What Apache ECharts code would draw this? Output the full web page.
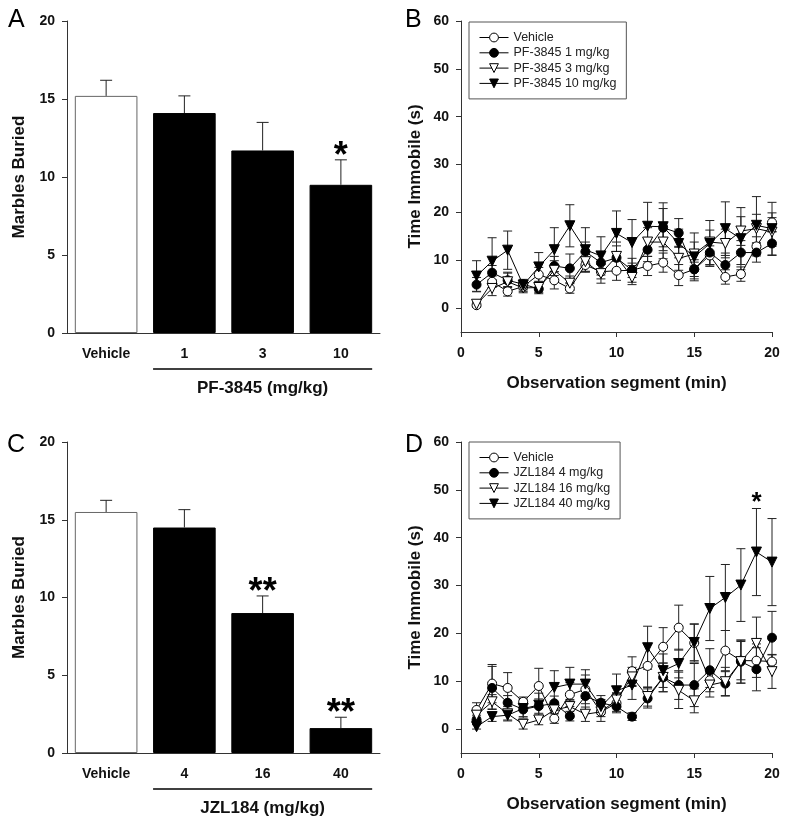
<!DOCTYPE html>
<html><head><meta charset="utf-8">
<script src="https://cdn.jsdelivr.net/npm/echarts@6/dist/echarts.min.js"></script>
<style>html,body{margin:0;padding:0;background:#fff}#c{width:791px;height:825px}</style>
</head><body><div id="c"></div>
<script>
// ---------- data ----------
const barTicks = [0, 5, 10, 15, 20];
const lineYTicks = [0, 10, 20, 30, 40, 50, 60];
const lineXTicks = [0, 5, 10, 15, 20];

const catsA = ['Vehicle', '1', '3', '10'];
const valsA = [15.2, 14.1, 11.7, 9.5];
const errA = [1.0, 1.1, 1.8, 1.6];
const sigA = ['', '', '', '*'];
const groupA = 'PF-3845 (mg/kg)';

const catsC = ['Vehicle', '4', '16', '40'];
const valsC = [15.5, 14.5, 9.0, 1.6];
const errC = [0.75, 1.15, 1.1, 0.7];
const sigC = ['', '', '**', '**'];
const groupC = 'JZL184 (mg/kg)';

const segments = [1, 2, 3, 4, 5, 6, 7, 8, 9, 10, 11, 12, 13, 14, 15, 16, 17, 18, 19, 20];

const namesB = ['Vehicle', 'PF-3845 1 mg/kg', 'PF-3845 3 mg/kg', 'PF-3845 10 mg/kg'];
const bVeh = [0.6, 5.5, 3.5, 4.5, 7.0, 5.8, 4.1, 9.0, 7.6, 7.8, 7.9, 8.8, 9.5, 6.9, 8.1, 11.0, 6.5, 7.1, 12.9, 17.9];
const bVehE = [0.4, 1.2, 1.0, 1.0, 1.5, 1.8, 1.0, 1.5, 1.5, 2.0, 1.5, 2.0, 2.0, 2.2, 1.5, 2.0, 1.5, 1.5, 2.0, 2.0];
const b1 = [4.9, 7.4, 5.8, 5.0, 4.0, 8.8, 8.3, 11.8, 9.5, 10.5, 7.9, 12.2, 16.8, 15.7, 8.1, 11.6, 9.0, 11.6, 11.6, 13.5];
const b1E = [1.5, 1.5, 1.5, 1.0, 1.0, 2.0, 3.0, 2.0, 2.0, 2.5, 2.5, 2.5, 4.0, 3.0, 2.0, 2.5, 2.5, 2.5, 2.0, 2.5];
const b3 = [0.8, 4.1, 5.5, 4.2, 4.3, 7.9, 5.2, 9.7, 7.2, 10.8, 6.4, 13.8, 13.8, 10.4, 11.3, 13.8, 13.5, 16.1, 16.6, 15.9];
const b3E = [0.5, 1.5, 2.0, 1.0, 1.0, 2.0, 1.5, 2.0, 2.0, 3.0, 1.5, 3.0, 3.5, 2.5, 2.5, 2.5, 3.0, 3.0, 3.0, 3.0];
const b10 = [6.7, 9.8, 12.1, 4.8, 8.6, 12.2, 17.2, 12.2, 10.9, 15.6, 13.7, 17.1, 17.0, 13.5, 10.7, 13.5, 16.6, 14.5, 17.3, 16.6];
const b10E = [3.2, 4.9, 4.0, 1.0, 3.0, 4.6, 4.4, 4.6, 4.0, 4.7, 4.8, 5.0, 5.0, 3.0, 5.0, 4.8, 5.6, 6.5, 6.0, 5.5];

const namesD = ['Vehicle', 'JZL184 4 mg/kg', 'JZL184 16 mg/kg', 'JZL184 40 mg/kg'];
const dVeh = [4.0, 9.5, 8.6, 5.7, 9.0, 2.2, 7.2, 8.3, 3.6, 5.4, 12.1, 13.2, 17.2, 21.2, 18.0, 10.2, 16.4, 14.3, 14.3, 14.1];
const dVehE = [1.5, 4.0, 3.2, 1.0, 3.7, 1.0, 2.5, 3.0, 1.0, 2.0, 3.0, 4.5, 4.0, 4.7, 4.0, 1.5, 4.2, 4.0, 3.5, 1.5];
const d4 = [1.9, 8.6, 5.5, 4.1, 4.8, 5.4, 2.7, 6.9, 5.5, 4.7, 2.6, 6.4, 10.8, 9.2, 9.2, 12.3, 9.5, 14.1, 12.5, 19.1];
const d4E = [1.0, 4.5, 1.5, 1.5, 1.5, 1.5, 1.0, 3.0, 1.5, 1.0, 0.8, 2.0, 3.0, 3.0, 4.5, 4.5, 2.5, 4.5, 4.5, 5.5];
const d16 = [2.9, 5.7, 3.2, 1.0, 1.9, 4.0, 4.7, 3.1, 3.6, 6.1, 10.9, 6.8, 10.8, 8.1, 5.9, 9.2, 9.9, 14.1, 17.9, 12.0];
const d16E = [1.0, 1.5, 1.5, 1.0, 1.0, 1.5, 1.5, 1.5, 2.0, 1.5, 2.0, 2.0, 3.0, 3.8, 2.5, 2.5, 3.0, 4.5, 5.5, 3.5];
const d40 = [0.5, 2.6, 2.9, 4.3, 5.0, 8.7, 9.4, 9.4, 4.7, 8.0, 9.2, 17.0, 12.2, 13.7, 18.1, 25.2, 27.5, 30.1, 37.0, 34.9];
const d40E = [0.5, 1.0, 1.0, 2.0, 2.5, 3.5, 3.5, 3.0, 1.5, 3.5, 3.0, 4.5, 3.5, 3.0, 3.8, 6.7, 6.9, 7.6, 9.1, 9.1];
const sigD = ['', '', '', '', '', '', '', '', '', '', '', '', '', '', '', '', '', '', '*', ''];

// ---------- styles ----------
const FONT = 'Liberation Sans, Arial, sans-serif';
const AX = '#333';
const tickLabel = { fontFamily: FONT, fontWeight: 'bold', fontSize: 14, color: '#111' };
const titleStyle = { fontFamily: FONT, fontWeight: 'bold', fontSize: 17, color: '#111' };

const chart = echarts.init(document.getElementById('c'), null, { renderer: 'canvas' });

function catAxis(gi, cats) {
  return {
    type: 'category', gridIndex: gi, data: cats,
    axisLine: { lineStyle: { color: AX, width: 1 } },
    axisTick: { alignWithLabel: true, length: 5, lineStyle: { color: AX } },
    axisLabel: Object.assign({ margin: 14, fontSize: 15 }, tickLabel)
  };
}
function barYAxis(gi) {
  return {
    type: 'value', gridIndex: gi, min: 0, max: 20, interval: 5,
    name: 'Marbles Buried', nameLocation: 'middle', nameGap: 39, nameTextStyle: titleStyle,
    axisLine: { show: true, lineStyle: { color: AX } },
    axisTick: { show: true, length: 5, lineStyle: { color: AX } },
    axisLabel: Object.assign({ margin: 12, customValues: barTicks }, tickLabel),
    splitLine: { show: false }
  };
}
function lineXAxis(gi) {
  return {
    type: 'value', gridIndex: gi, min: 0, max: 20, interval: 5,
    name: 'Observation segment (min)', nameLocation: 'middle', nameGap: 43, nameTextStyle: titleStyle,
    axisLine: { show: true, onZero: false, lineStyle: { color: AX } },
    axisTick: { show: true, length: 5, lineStyle: { color: AX }, customValues: lineXTicks },
    axisLabel: Object.assign({ margin: 14, fontSize: 15, customValues: lineXTicks }, tickLabel),
    splitLine: { show: false }
  };
}
function lineYAxis(gi) {
  return {
    type: 'value', gridIndex: gi, min: -5, max: 60, interval: 5,
    name: 'Time Immobile (s)', nameLocation: 'middle', nameGap: 37, nameTextStyle: titleStyle,
    axisLine: { show: true, onZero: false, lineStyle: { color: AX } },
    axisTick: { show: true, length: 5, lineStyle: { color: AX }, customValues: lineYTicks },
    axisLabel: Object.assign({ margin: 12, customValues: lineYTicks }, tickLabel),
    splitLine: { show: false }
  };
}

function barSeries(gi, vals) {
  return {
    type: 'bar', xAxisIndex: gi, yAxisIndex: gi, barCategoryGap: '20%', z: 2,
    data: vals.map((v, i) => i === 0
      ? { value: v, itemStyle: { color: '#fff', borderColor: '#666', borderWidth: 1 } }
      : { value: v, itemStyle: { color: '#000', borderColor: '#000', borderWidth: 1 } }),
    silent: true
  };
}
function barErrSeries(gi, vals, errs, sig) {
  return {
    type: 'custom', xAxisIndex: gi, yAxisIndex: gi, z: 3, silent: true,
    data: vals.map((v, i) => [i, v, v + errs[i], sig[i]]),
    renderItem: function (params, api) {
      const i = api.value(0);
      const p0 = api.coord([i, api.value(1)]);
      const p1 = api.coord([i, api.value(2)]);
      const s = sig[params.dataIndex];
      const ch = [
        { type: 'line', shape: { x1: p0[0], y1: p0[1], x2: p1[0], y2: p1[1] }, style: { stroke: '#222', lineWidth: 1 } },
        { type: 'line', shape: { x1: p1[0] - 6, y1: p1[1], x2: p1[0] + 6, y2: p1[1] }, style: { stroke: '#222', lineWidth: 1 } }
      ];
      if (s) ch.push({ type: 'text', x: p1[0], y: p1[1] - 3, style: { text: s, fontSize: 36, fontFamily: FONT, fontWeight: 'bold', fill: '#000', align: 'center', verticalAlign: 'middle' } });
      return { type: 'group', children: ch };
    }
  };
}
function errSeries(gi, vals, errs, sig) {
  return {
    type: 'custom', xAxisIndex: gi, yAxisIndex: gi, z: 1, silent: true,
    data: vals.map((v, i) => [segments[i], v - errs[i], v + errs[i]]),
    renderItem: function (params, api) {
      const x = api.value(0);
      const lo = api.coord([x, api.value(1)]);
      const hi = api.coord([x, api.value(2)]);
      const st = { stroke: '#222', lineWidth: 1 };
      const ch = [
        { type: 'line', shape: { x1: lo[0], y1: lo[1], x2: hi[0], y2: hi[1] }, style: st },
        { type: 'line', shape: { x1: lo[0] - 4.5, y1: lo[1], x2: lo[0] + 4.5, y2: lo[1] }, style: st },
        { type: 'line', shape: { x1: hi[0] - 4.5, y1: hi[1], x2: hi[0] + 4.5, y2: hi[1] }, style: st }
      ];
      if (sig && sig[params.dataIndex]) ch.push({ type: 'text', x: hi[0], y: hi[1] - 6, style: { text: sig[params.dataIndex], fontSize: 26, fontFamily: FONT, fontWeight: 'bold', fill: '#000', align: 'center', verticalAlign: 'middle' } });
      return { type: 'group', children: ch };
    }
  };
}
const markers = [
  { symbol: 'circle', fill: '#fff', rot: 0 },
  { symbol: 'circle', fill: '#000', rot: 0 },
  { symbol: 'triangle', fill: '#fff', rot: 180 },
  { symbol: 'triangle', fill: '#000', rot: 180 }
];
function lineSeries(gi, name, vals, k) {
  const m = markers[k];
  return {
    type: 'line', name: name, xAxisIndex: gi, yAxisIndex: gi, z: 2 + k, silent: true,
    data: vals.map((v, i) => [segments[i], v]),
    symbol: m.symbol, symbolRotate: m.rot, symbolSize: m.symbol === 'circle' ? 9 : 10,
    showAllSymbol: true,
    itemStyle: { color: m.fill, borderColor: '#000', borderWidth: 1 },
    lineStyle: { color: '#000', width: 1 },
    emphasis: { disabled: true },
    animation: false
  };
}
function legendFor(names, top) {
  return {
    data: names, orient: 'vertical', left: 469, top: top,
    borderColor: '#555', borderWidth: 1, borderRadius: 0, padding: [9, 10, 9, 10],
    itemWidth: 29, itemHeight: 11, itemGap: 2.3, selectedMode: false,
    lineStyle: { width: 1, color: '#000' },
    itemStyle: { borderWidth: 1 },
    textStyle: { fontFamily: FONT, fontSize: 12.5, color: '#222' }
  };
}

const option = {
  animation: false,
  backgroundColor: '#fff',
  grid: [
    { left: 67, top: 21, width: 313, height: 312 },
    { left: 461, top: 21, width: 311, height: 311 },
    { left: 67, top: 442, width: 313, height: 311 },
    { left: 461, top: 442, width: 311, height: 311 }
  ],
  xAxis: [catAxis(0, catsA), lineXAxis(1), catAxis(2, catsC), lineXAxis(3)],
  yAxis: [barYAxis(0), lineYAxis(1), barYAxis(2), lineYAxis(3)],
  legend: [legendFor(namesB, 22), legendFor(namesD, 442)],
  series: [
    barSeries(0, valsA), barErrSeries(0, valsA, errA, sigA),
    barSeries(2, valsC), barErrSeries(2, valsC, errC, sigC),
    errSeries(1, bVeh, bVehE), errSeries(1, b1, b1E), errSeries(1, b3, b3E), errSeries(1, b10, b10E),
    lineSeries(1, namesB[0], bVeh, 0), lineSeries(1, namesB[1], b1, 1), lineSeries(1, namesB[2], b3, 2), lineSeries(1, namesB[3], b10, 3),
    errSeries(3, dVeh, dVehE), errSeries(3, d4, d4E), errSeries(3, d16, d16E), errSeries(3, d40, d40E, sigD),
    lineSeries(3, namesD[0], dVeh, 0), lineSeries(3, namesD[1], d4, 1), lineSeries(3, namesD[2], d16, 2), lineSeries(3, namesD[3], d40, 3)
  ]
};
chart.setOption(option);

// group underline + labels derived from the category axis positions
function groupGraphic(gi, cats, label) {
  const c1 = chart.convertToPixel({ xAxisIndex: gi }, cats[1]);
  const c0 = chart.convertToPixel({ xAxisIndex: gi }, cats[0]);
  const cN = chart.convertToPixel({ xAxisIndex: gi }, cats[cats.length - 1]);
  const bw = (c1 - c0) * 0.8;
  const y0 = chart.convertToPixel({ yAxisIndex: gi }, 0);
  return [
    { type: 'line', shape: { x1: c1 - bw / 2, y1: y0 + 36, x2: cN + bw / 2, y2: y0 + 36 }, style: { stroke: '#000', lineWidth: 1.5 } },
    { type: 'text', x: (c1 + cN) / 2, y: y0 + 55, style: { text: label, fontFamily: FONT, fontWeight: 'bold', fontSize: 17, fill: '#111', align: 'center', verticalAlign: 'middle' } }
  ];
}
const letter = (t, x, y) => ({ type: 'text', x: x, y: y, style: { text: t, fontFamily: FONT, fontSize: 25, fill: '#000', align: 'left', verticalAlign: 'top' } });
chart.setOption({
  graphic: [].concat(
    groupGraphic(0, catsA, groupA),
    groupGraphic(2, catsC, groupC),
    [letter('A', 8, 8), letter('B', 405, 8), letter('C', 7, 433), letter('D', 405, 433)]
  )
});
</script></body></html>
